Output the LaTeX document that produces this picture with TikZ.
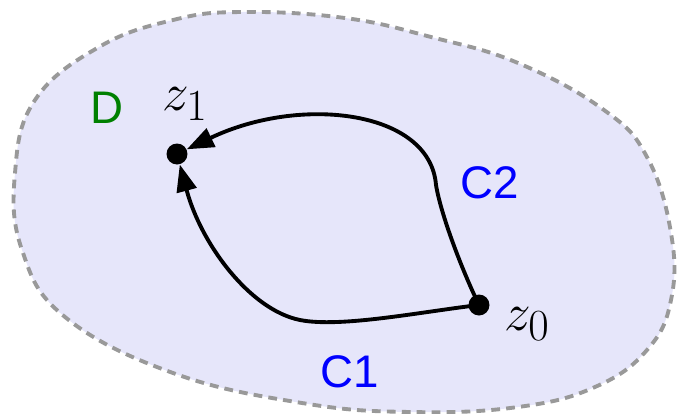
\documentclass[tikz,border=0pt]{standalone}
\usepackage{fontspec}
\setsansfont{Liberation Sans}
\usetikzlibrary{arrows.meta}
\definecolor{RegionFill}{HTML}{E6E6FA}
\definecolor{RegionEdge}{HTML}{999999}
\definecolor{CurveBlue}{HTML}{0000FF}
\definecolor{RegionGreen}{HTML}{008000}
\newcommand{\ptname}[1]{\scalebox{1.22}{$#1$}}

\begin{document}
\begin{tikzpicture}[
    x=0.02cm,y=-0.02cm,
    region/.style={fill=RegionFill,draw=RegionEdge,line width=2.2pt,dash pattern=on 5pt off 3.5pt},
    dot/.style={circle,fill=black,inner sep=0pt,minimum size=0.42cm},
    arr/.style={-{Triangle[length=5.4mm,width=4mm]},line width=2.2pt,black},
    tag/.style={font=\sffamily\fontsize{26}{30}\selectfont},
    pname/.style={font=\fontsize{24.88}{30}\selectfont}
  ]
    \useasboundingbox (0,0) rectangle (677,413);

    % the domain
    \draw[region] plot[smooth cycle,tension=0.7] coordinates {
      (99,47) (173,20) (242,12) (345,18) (431,37) (518,63) (604,110)
      (647,157) (671,233) (671,300) (647,350) (595,387) (518,407)
      (410,412) (302,403) (173,373) (65,317) (22,250) (15,173) (35,100)};

    \node[dot] (z0) at (479,305) {};
    \node[dot] (z1) at (177,154) {};

    \node[pname] (z0lbl) at (527,324) {\ptname{z_0}};
    \node[pname] (z1lbl) at (185,104) {\ptname{z_1}};

    \node[tag,text=RegionGreen] (dom) at (107,108) {D};
    \node[tag,text=CurveBlue] (c1) at (350,372) {C1};
    \node[tag,text=CurveBlue] (c2) at (490,183) {C2};

    % two paths from z0 to z1
    \draw[arr] (z0.center) .. controls (420,312) and (340,328) .. (300,320)
      .. controls (250,310) and (201,244) .. (z1);
    \draw[arr] (z0.center) .. controls (462,270) and (441,215) .. (436,185)
      .. controls (430,110) and (300,95) .. (z1);
  \end{tikzpicture}
\end{document}
